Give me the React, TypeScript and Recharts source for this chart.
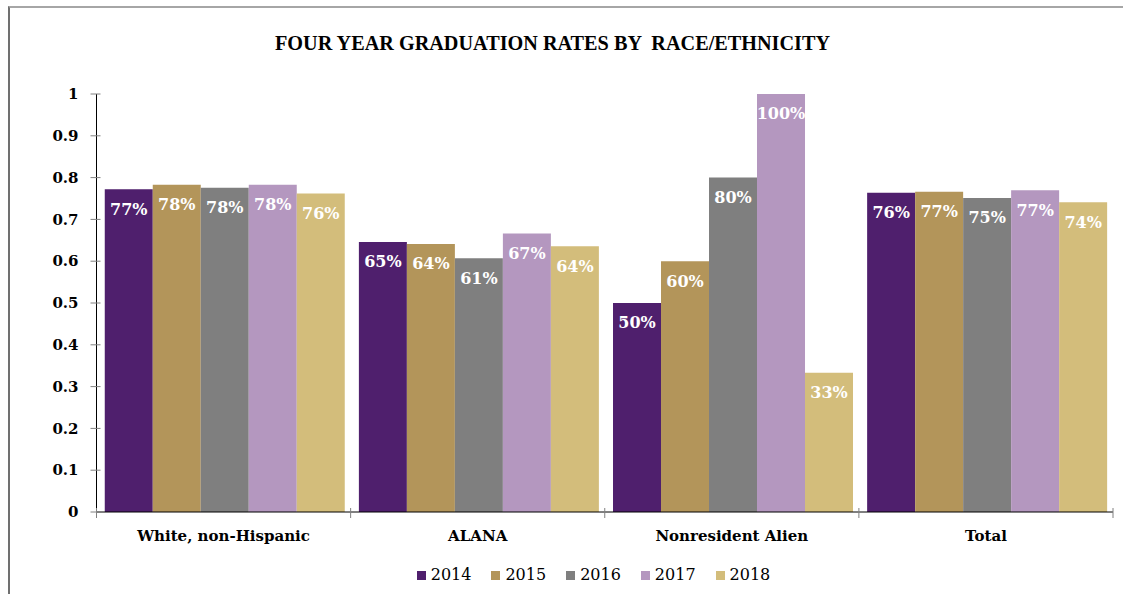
import React from 'react';
import { BarChart, Bar, XAxis, YAxis, Legend, LabelList } from 'recharts';

const categories = ['White, non-Hispanic', 'ALANA', 'Nonresident Alien', 'Total'];
const years = ['2014', '2015', '2016', '2017', '2018'];
const rate2014 = [0.772, 0.646, 0.5, 0.764];
const rate2015 = [0.783, 0.641, 0.6, 0.766];
const rate2016 = [0.776, 0.607, 0.8, 0.751];
const rate2017 = [0.783, 0.666, 1.0, 0.770];
const rate2018 = [0.762, 0.636, 0.333, 0.741];
const yTicks = [0, 0.1, 0.2, 0.3, 0.4, 0.5, 0.6, 0.7, 0.8, 0.9, 1];
const colors = ['#4f1f6d', '#b3955a', '#7f7f7f', '#b497bf', '#d3bd7b'];

const series = [rate2014, rate2015, rate2016, rate2017, rate2018];
const data = categories.map((c, i) => {
  const row: any = { name: c };
  years.forEach((y, k) => { row[y] = series[k][i]; });
  return row;
});

const SERIF = '"DejaVu Serif", serif';

const XTick = (props: any) => {
  const { x, y, payload, index, width } = props;
  const half = payload && payload.offset ? payload.offset : (width || 1017) / categories.length / 2;
  const isLast = index === categories.length - 1;
  return (
    <g>
      <line x1={x - half} x2={x - half} y1={y - 4} y2={y + 6} stroke="#808080" />
      {isLast && <line x1={x + half} x2={x + half} y1={y - 4} y2={y + 6} stroke="#808080" />}
      <text x={x} y={y + 24} dy="0.35em" textAnchor="middle" fontFamily={SERIF} fontWeight="bold" fontSize={15} fill="#000">
        {payload.value}
      </text>
    </g>
  );
};

const YTick = (props: any) => {
  const { x, y, payload } = props;
  return (
    <g>
      <line x1={x - 6} x2={x + 4} y1={y} y2={y} stroke="#808080" />
      <text x={x - 18} y={y} dy="0.35em" textAnchor="end" fontFamily={SERIF} fontWeight="bold" fontSize={15} fill="#000">
        {String(payload.value)}
      </text>
    </g>
  );
};

const LegendContent = (props: any) => {
  const { payload } = props;
  return (
    <div style={{ display: 'flex', justifyContent: 'center', paddingTop: 14, paddingLeft: 94 }}>
      {(payload || []).map((p: any) => (
        <div key={p.value} style={{ display: 'flex', alignItems: 'center', marginRight: 20 }}>
          <div style={{ width: 9, height: 9, background: p.color, marginRight: 5 }} />
          <span style={{ fontFamily: "'DejaVu Serif'", fontSize: 16, color: '#000', lineHeight: '18px' }}>{p.value}</span>
        </div>
      ))}
    </div>
  );
};

const fmt = (v: any) => `${Math.round(Number(v) * 100)}%`;

export default function App() {
  return (
    <div style={{ position: 'absolute', left: 0, top: 0, width: 1123, height: 594, background: '#fff' }}>
      <div style={{ position: 'absolute', left: 8, top: 6, width: 1115, height: 588, borderTop: '2px solid #a6a6a6', borderLeft: '2px solid #707070', boxSizing: 'border-box' }} />
      <svg style={{ position: 'absolute', left: 0, top: 0 }} width={1123} height={80}>
        <text x={275} y={50} textLength={555} lengthAdjust="spacingAndGlyphs" fontFamily='"Liberation Serif", serif' fontWeight="bold" fontSize={20} fill="#000" style={{ whiteSpace: 'pre' }}>
          {'FOUR YEAR GRADUATION RATES BY  RACE/ETHNICITY'}
        </text>
      </svg>
      <div style={{ position: 'absolute', left: 0, top: 0 }}>
        <BarChart width={1123} height={594} data={data} margin={{ top: 94, right: 10, left: 0, bottom: 0 }} barCategoryGap="3.25%" barGap={0}>
          <XAxis dataKey="name" height={40} tickSize={0} tickMargin={0} tickLine={false} axisLine={{ stroke: '#000' }} tick={<XTick />} interval={0} />
          <YAxis width={96.5} domain={[0, 1]} ticks={yTicks} tickSize={0} tickMargin={0} tickLine={false} axisLine={{ stroke: '#000' }} tick={<YTick />} interval={0} />
          <Legend verticalAlign="bottom" height={42} content={<LegendContent />} />
          {years.map((y, k) => (
            <Bar key={y} dataKey={y} fill={colors[k]} isAnimationActive={false}>
              <LabelList dataKey={y} position="insideTop" offset={14} formatter={fmt} fill="#fff" fontFamily={SERIF} fontWeight="bold" fontSize={16} />
            </Bar>
          ))}
        </BarChart>
      </div>
    </div>
  );
}
